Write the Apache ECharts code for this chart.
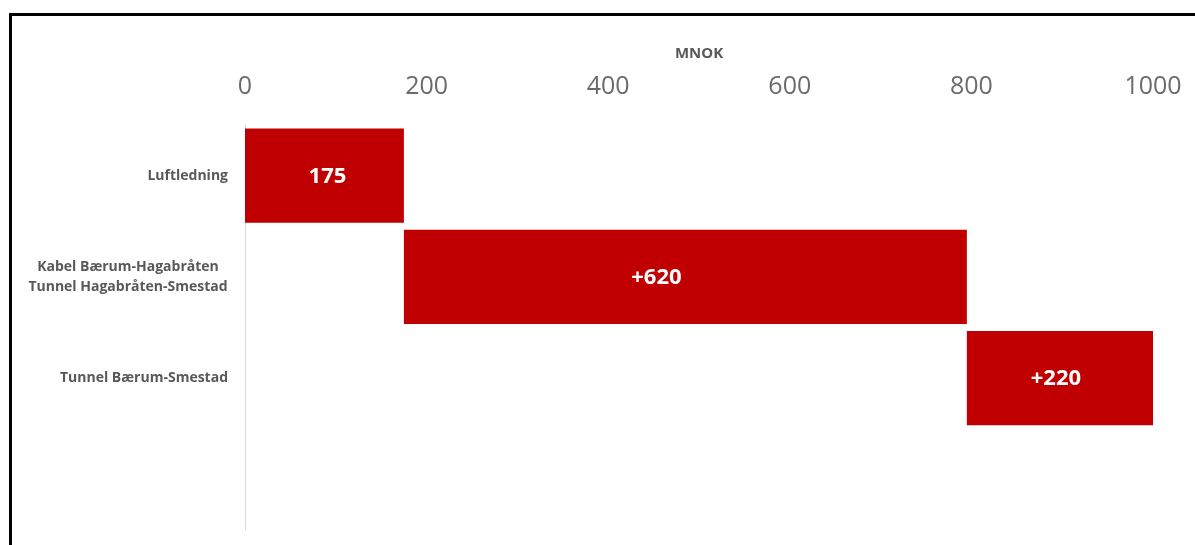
<!DOCTYPE html>
<html>
<head>
<meta charset="utf-8">
<script src="https://cdn.jsdelivr.net/npm/echarts@6/dist/echarts.min.js"></script>
<style>
  html, body { margin: 0; padding: 0; background: #fff; }
  #chart { width: 1195px; height: 545px; }
</style>
</head>
<body>
<div id="chart"></div>
<script>
// categories (last one is an empty slot, as in the original)
const categories = ['Luftledning', 'Kabel Bærum-Hagabråten\nTunnel Hagabråten-Smestad', 'Tunnel Bærum-Smestad', '']
// waterfall steps in MNOK
const steps = [175, 620, 220, null]
const stepLabels = ['175', '+620', '+220', '']
// invisible offset = running total before each step
const offsets = [0, 175, 795, null]
const xTicks = [0, 200, 400, 600, 800, 1000]

// the value labels in the original are not quite centred in their bars
const labelNudge = [3, -29, -4, 0]

const catFont = 'bold 14px "Open Sans"'
// widest line of the multi-line label, so its lines can be centred
const measure = document.createElement('canvas').getContext('2d')
measure.font = catFont
let blockWidth = 0
categories.forEach((c) => {
  if (c.indexOf('\n') < 0) return
  c.split('\n').forEach((line) => {
    blockWidth = Math.max(blockWidth, Math.ceil(measure.measureText(line).width))
  })
})

const chart = echarts.init(document.getElementById('chart'))

const option = {
  animation: false,
  backgroundColor: '#fff',
  grid: {
    left: 245,
    right: 42,
    top: 125,
    bottom: 15,
    outerBoundsMode: 'none',
  },
  xAxis: {
    type: 'value',
    position: 'top',
    min: xTicks[0],
    max: xTicks[xTicks.length - 1],
    interval: 200,
    name: 'MNOK',
    nameLocation: 'middle',
    nameGap: 64,
    nameTextStyle: {
      color: '#595959',
      fontSize: 15,
      fontWeight: 'bold',
      fontFamily: 'Open Sans',
    },
    axisLine: { show: false },
    axisTick: { show: false },
    splitLine: { show: false },
    axisLabel: {
      color: '#6b6b6b',
      fontSize: 25,
      fontFamily: 'Open Sans',
      margin: 26,
      formatter: (v) => String(v),
    },
  },
  yAxis: {
    type: 'category',
    inverse: true,
    data: categories,
    axisLine: { show: true, lineStyle: { color: '#d9d9d9', width: 1 } },
    axisTick: { show: false },
    splitLine: { show: false },
    axisLabel: {
      color: '#595959',
      fontSize: 14,
      fontWeight: 'bold',
      fontFamily: 'Open Sans',
      lineHeight: 20,
      margin: 17,
      formatter: (value) => {
        if (value.indexOf('\n') < 0) return value
        return value.split('\n').map((l) => '{c|' + l + '}').join('\n')
      },
      rich: {
        c: {
          width: blockWidth,
          align: 'center',
          color: '#595959',
          fontSize: 14,
          fontWeight: 'bold',
          fontFamily: 'Open Sans',
          lineHeight: 20,
        },
      },
    },
  },
  series: [
    {
      name: 'offset',
      type: 'bar',
      stack: 'total',
      silent: true,
      itemStyle: { color: 'transparent' },
      data: offsets,
      barCategoryGap: '7%',
    },
    {
      name: 'MNOK',
      type: 'bar',
      stack: 'total',
      clip: true,
      barCategoryGap: '7%',
      itemStyle: { color: '#c00000' },
      data: steps.map((v, i) => ({
        value: v,
        label: { offset: [labelNudge[i], 1] },
      })),
      label: {
        show: true,
        position: 'inside',
        color: '#fff',
        fontSize: 22,
        fontWeight: 'bold',
        fontFamily: 'Open Sans',
        formatter: (p) => stepLabels[p.dataIndex],
      },
    },
  ],
  graphic: [
    {
      type: 'rect',
      silent: true,
      shape: { x: 10.5, y: 14.5, width: 1300, height: 700 },
      style: { fill: 'none', stroke: '#000', lineWidth: 3 },
    },
  ],
}

chart.setOption(option)
</script>
</body>
</html>
